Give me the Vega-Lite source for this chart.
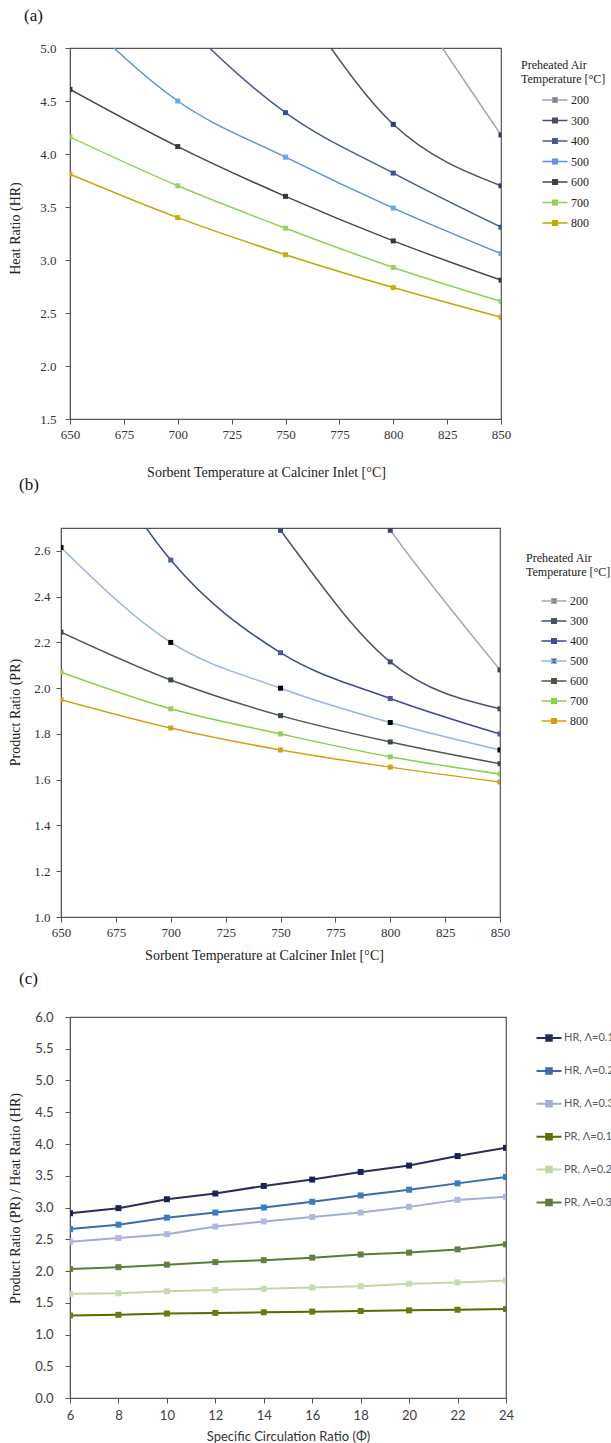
{
  "$schema": "https://vega.github.io/schema/vega-lite/v6.json",
  "background": "white",
  "padding": {"left": 0, "top": 6, "right": 0, "bottom": 0},
  "spacing": -5,
  "resolve": {"scale": {"stroke": "independent", "fill": "independent"}, "legend": {"stroke": "independent", "fill": "independent"}},
  "config": {
    "view": {"stroke": "#555555", "strokeWidth": 1.2},
    "axis": {"grid": false, "labelFlush": false, "domainColor": "#555555", "tickColor": "#555555", "tickSize": 5, "labelFont": "Liberation Serif", "labelFontSize": 13, "labelColor": "#333333", "titleFont": "Liberation Serif", "titleFontSize": 14, "titleFontWeight": "normal", "titleColor": "#222222", "labelPadding": 5},
    "title": {"font": "Liberation Serif", "fontSize": 17, "fontWeight": "normal", "anchor": "start", "frame": "group", "baseline": "top", "color": "#111111"},
    "legend": {"padding": 0}
  },
  "datasets": {
    "spacer": [],
    "a": [
      {"T": "200", "x": 650, "y": 11.5}, {"T": "200", "x": 700, "y": 9.2}, {"T": "200", "x": 750, "y": 7.3}, {"T": "200", "x": 800, "y": 5.7}, {"T": "200", "x": 850, "y": 4.18},
      {"T": "300", "x": 650, "y": 8.8}, {"T": "300", "x": 700, "y": 7.0}, {"T": "300", "x": 750, "y": 5.6}, {"T": "300", "x": 800, "y": 4.28}, {"T": "300", "x": 850, "y": 3.70},
      {"T": "400", "x": 650, "y": 6.5}, {"T": "400", "x": 700, "y": 5.3}, {"T": "400", "x": 750, "y": 4.39}, {"T": "400", "x": 800, "y": 3.82}, {"T": "400", "x": 850, "y": 3.31},
      {"T": "500", "x": 650, "y": 5.4}, {"T": "500", "x": 700, "y": 4.50}, {"T": "500", "x": 750, "y": 3.97}, {"T": "500", "x": 800, "y": 3.49}, {"T": "500", "x": 850, "y": 3.06},
      {"T": "600", "x": 650, "y": 4.61}, {"T": "600", "x": 700, "y": 4.07}, {"T": "600", "x": 750, "y": 3.60}, {"T": "600", "x": 800, "y": 3.18}, {"T": "600", "x": 850, "y": 2.81},
      {"T": "700", "x": 650, "y": 4.16}, {"T": "700", "x": 700, "y": 3.70}, {"T": "700", "x": 750, "y": 3.30}, {"T": "700", "x": 800, "y": 2.93}, {"T": "700", "x": 850, "y": 2.61},
      {"T": "800", "x": 650, "y": 3.81}, {"T": "800", "x": 700, "y": 3.40}, {"T": "800", "x": 750, "y": 3.05}, {"T": "800", "x": 800, "y": 2.74}, {"T": "800", "x": 850, "y": 2.46}
    ],
    "b": [
      {"T": "200", "x": 650, "y": 5.0}, {"T": "200", "x": 700, "y": 4.2}, {"T": "200", "x": 750, "y": 3.4}, {"T": "200", "x": 800, "y": 2.69}, {"T": "200", "x": 850, "y": 2.08},
      {"T": "300", "x": 650, "y": 4.3}, {"T": "300", "x": 700, "y": 3.4}, {"T": "300", "x": 750, "y": 2.69}, {"T": "300", "x": 800, "y": 2.115}, {"T": "300", "x": 850, "y": 1.91},
      {"T": "400", "x": 650, "y": 3.3}, {"T": "400", "x": 700, "y": 2.56}, {"T": "400", "x": 750, "y": 2.155}, {"T": "400", "x": 800, "y": 1.955}, {"T": "400", "x": 850, "y": 1.80},
      {"T": "500", "x": 650, "y": 2.615}, {"T": "500", "x": 700, "y": 2.20}, {"T": "500", "x": 750, "y": 2.00}, {"T": "500", "x": 800, "y": 1.85}, {"T": "500", "x": 850, "y": 1.73},
      {"T": "600", "x": 650, "y": 2.245}, {"T": "600", "x": 700, "y": 2.036}, {"T": "600", "x": 750, "y": 1.88}, {"T": "600", "x": 800, "y": 1.765}, {"T": "600", "x": 850, "y": 1.67},
      {"T": "700", "x": 650, "y": 2.07}, {"T": "700", "x": 700, "y": 1.91}, {"T": "700", "x": 750, "y": 1.80}, {"T": "700", "x": 800, "y": 1.70}, {"T": "700", "x": 850, "y": 1.625},
      {"T": "800", "x": 650, "y": 1.95}, {"T": "800", "x": 700, "y": 1.826}, {"T": "800", "x": 750, "y": 1.73}, {"T": "800", "x": 800, "y": 1.655}, {"T": "800", "x": 850, "y": 1.59}
    ],
    "c": [
      {"S": "HR, Λ=0.1", "x": 6, "y": 2.91}, {"S": "HR, Λ=0.1", "x": 8, "y": 2.99}, {"S": "HR, Λ=0.1", "x": 10, "y": 3.13}, {"S": "HR, Λ=0.1", "x": 12, "y": 3.22}, {"S": "HR, Λ=0.1", "x": 14, "y": 3.34}, {"S": "HR, Λ=0.1", "x": 16, "y": 3.44}, {"S": "HR, Λ=0.1", "x": 18, "y": 3.56}, {"S": "HR, Λ=0.1", "x": 20, "y": 3.66}, {"S": "HR, Λ=0.1", "x": 22, "y": 3.81}, {"S": "HR, Λ=0.1", "x": 24, "y": 3.94},
      {"S": "HR, Λ=0.2", "x": 6, "y": 2.66}, {"S": "HR, Λ=0.2", "x": 8, "y": 2.73}, {"S": "HR, Λ=0.2", "x": 10, "y": 2.84}, {"S": "HR, Λ=0.2", "x": 12, "y": 2.92}, {"S": "HR, Λ=0.2", "x": 14, "y": 3.00}, {"S": "HR, Λ=0.2", "x": 16, "y": 3.09}, {"S": "HR, Λ=0.2", "x": 18, "y": 3.19}, {"S": "HR, Λ=0.2", "x": 20, "y": 3.28}, {"S": "HR, Λ=0.2", "x": 22, "y": 3.38}, {"S": "HR, Λ=0.2", "x": 24, "y": 3.48},
      {"S": "HR, Λ=0.3", "x": 6, "y": 2.46}, {"S": "HR, Λ=0.3", "x": 8, "y": 2.52}, {"S": "HR, Λ=0.3", "x": 10, "y": 2.58}, {"S": "HR, Λ=0.3", "x": 12, "y": 2.70}, {"S": "HR, Λ=0.3", "x": 14, "y": 2.78}, {"S": "HR, Λ=0.3", "x": 16, "y": 2.85}, {"S": "HR, Λ=0.3", "x": 18, "y": 2.92}, {"S": "HR, Λ=0.3", "x": 20, "y": 3.01}, {"S": "HR, Λ=0.3", "x": 22, "y": 3.12}, {"S": "HR, Λ=0.3", "x": 24, "y": 3.17},
      {"S": "PR, Λ=0.1", "x": 6, "y": 1.30}, {"S": "PR, Λ=0.1", "x": 8, "y": 1.31}, {"S": "PR, Λ=0.1", "x": 10, "y": 1.33}, {"S": "PR, Λ=0.1", "x": 12, "y": 1.34}, {"S": "PR, Λ=0.1", "x": 14, "y": 1.35}, {"S": "PR, Λ=0.1", "x": 16, "y": 1.36}, {"S": "PR, Λ=0.1", "x": 18, "y": 1.37}, {"S": "PR, Λ=0.1", "x": 20, "y": 1.38}, {"S": "PR, Λ=0.1", "x": 22, "y": 1.39}, {"S": "PR, Λ=0.1", "x": 24, "y": 1.40},
      {"S": "PR, Λ=0.2", "x": 6, "y": 1.64}, {"S": "PR, Λ=0.2", "x": 8, "y": 1.65}, {"S": "PR, Λ=0.2", "x": 10, "y": 1.68}, {"S": "PR, Λ=0.2", "x": 12, "y": 1.70}, {"S": "PR, Λ=0.2", "x": 14, "y": 1.72}, {"S": "PR, Λ=0.2", "x": 16, "y": 1.74}, {"S": "PR, Λ=0.2", "x": 18, "y": 1.76}, {"S": "PR, Λ=0.2", "x": 20, "y": 1.80}, {"S": "PR, Λ=0.2", "x": 22, "y": 1.82}, {"S": "PR, Λ=0.2", "x": 24, "y": 1.85},
      {"S": "PR, Λ=0.3", "x": 6, "y": 2.03}, {"S": "PR, Λ=0.3", "x": 8, "y": 2.06}, {"S": "PR, Λ=0.3", "x": 10, "y": 2.10}, {"S": "PR, Λ=0.3", "x": 12, "y": 2.14}, {"S": "PR, Λ=0.3", "x": 14, "y": 2.17}, {"S": "PR, Λ=0.3", "x": 16, "y": 2.21}, {"S": "PR, Λ=0.3", "x": 18, "y": 2.26}, {"S": "PR, Λ=0.3", "x": 20, "y": 2.29}, {"S": "PR, Λ=0.3", "x": 22, "y": 2.34}, {"S": "PR, Λ=0.3", "x": 24, "y": 2.42}
    ]
  },
  "vconcat": [
    {"spacing": 0, "hconcat": [
      {"width": 7, "height": 1, "view": {"stroke": null}, "data": {"name": "spacer"}, "mark": "point", "encoding": {}},
      {
      "title": {"text": "(a)", "dx": -46, "offset": 17},
      "width": 431,
      "height": 371,
      "data": {"name": "a"},
      "encoding": {
        "x": {"field": "x", "type": "quantitative", "scale": {"domain": [650, 850], "nice": false}, "axis": {"values": [650, 675, 700, 725, 750, 775, 800, 825, 850], "labelPadding": 4, "title": "Sorbent Temperature at Calciner Inlet [°C]", "titleX": 196, "titleY": 46.1, "titleAlign": "center", "titleBaseline": "top"}},
        "y": {"field": "y", "type": "quantitative", "scale": {"domain": [1.5, 5.0], "nice": false}, "axis": {"values": [1.5, 2.0, 2.5, 3.0, 3.5, 4.0, 4.5, 5.0], "format": ".1f", "title": "Heat Ratio (HR)", "titleX": -48, "titleY": 180, "titleAlign": "center", "titleBaseline": "bottom", "labelPadding": 9}}
      },
      "layer": [
        {
          "mark": {"type": "line", "interpolate": "monotone", "clip": true, "strokeWidth": 1.5},
          "encoding": {
            "stroke": {"field": "T", "type": "nominal", "scale": {"domain": ["200", "300", "400", "500", "600", "700", "800"], "range": ["#9fa3ad", "#4d5263", "#4a5a92", "#5b8fe0", "#414a41", "#8ed158", "#bfa800"]},
              "legend": {"orient": "none", "legendX": 521, "legendY": 12, "title": ["Preheated Air", "Temperature [°C]"], "titleFont": "Liberation Serif", "titleFontSize": 12, "titleFontWeight": "normal", "titleColor": "#222222", "titleLineHeight": 14, "titlePadding": 8, "labelFont": "Liberation Serif", "labelFontSize": 12, "labelColor": "#222222", "symbolType": "M-2.5,0H2.5M-0.45,-0.45H0.45V0.45H-0.45Z", "symbolSize": 100, "symbolStrokeWidth": 1.5, "symbolOffset": 28, "labelOffset": 10, "rowPadding": 8.5, "symbolOpacity": 1}}
          }
        },
        {
          "mark": {"type": "point", "shape": "square", "filled": true, "size": 25, "opacity": 1, "clip": true},
          "encoding": {
            "fill": {"field": "T", "type": "nominal", "scale": {"domain": ["200", "300", "400", "500", "600", "700", "800"], "range": ["#2c3470", "#2e3a78", "#3b4ea2", "#62a6ee", "#323c32", "#98d264", "#c4b000"]},
              "legend": {"orient": "none", "legendX": 521, "legendY": 12, "title": ["Preheated Air", "Temperature [°C]"], "titleFont": "Liberation Serif", "titleFontSize": 12, "titleFontWeight": "normal", "titleColor": "#222222", "titleLineHeight": 14, "titlePadding": 8, "labelFont": "Liberation Serif", "labelFontSize": 12, "labelColor": "#222222", "symbolType": "M-2.5,0H2.5M-0.45,-0.45H0.45V0.45H-0.45Z", "symbolSize": 100, "symbolStrokeWidth": 1.5, "symbolOffset": 28, "labelOffset": 10, "rowPadding": 8.5, "symbolOpacity": 1}}
          }
        }
      ]
    }]},
    {"spacing": 0, "hconcat": [
      {"width": 7, "height": 1, "view": {"stroke": null}, "data": {"name": "spacer"}, "mark": "point", "encoding": {}},
      {
      "title": {"text": "(b)", "dx": -42, "offset": 34},
      "width": 439,
      "height": 389,
      "data": {"name": "b"},
      "encoding": {
        "x": {"field": "x", "type": "quantitative", "scale": {"domain": [650, 850], "nice": false}, "axis": {"values": [650, 675, 700, 725, 750, 775, 800, 825, 850], "labelPadding": 4, "title": ["Sorbent Temperature at Calciner Inlet [°C]", " "], "titleLineHeight": 11, "titleX": 203, "titleY": 31.1, "titleAlign": "center", "titleBaseline": "top"}},
        "y": {"field": "y", "type": "quantitative", "scale": {"domain": [1.0, 2.7], "nice": false}, "axis": {"values": [1.0, 1.2, 1.4, 1.6, 1.8, 2.0, 2.2, 2.4, 2.6], "format": ".1f", "title": "Product Ratio (PR)", "titleX": -39, "titleY": 184, "titleAlign": "center", "titleBaseline": "bottom", "labelPadding": 6}}
      },
      "layer": [
        {
          "mark": {"type": "line", "interpolate": "monotone", "clip": true, "strokeWidth": 1.5},
          "encoding": {
            "stroke": {"field": "T", "type": "nominal", "scale": {"domain": ["200", "300", "400", "500", "600", "700", "800"], "range": ["#a9a9a9", "#4a5272", "#3b4b92", "#95b2ea", "#4a5948", "#87cf47", "#d4a012"]},
              "legend": {"orient": "none", "legendX": 526, "legendY": 25, "title": ["Preheated Air", "Temperature [°C]"], "titleFont": "Liberation Serif", "titleFontSize": 12, "titleFontWeight": "normal", "titleColor": "#222222", "titleLineHeight": 14, "titlePadding": 16, "labelFont": "Liberation Serif", "labelFontSize": 12, "labelColor": "#222222", "symbolType": "M-2.5,0H2.5M-0.45,-0.45H0.45V0.45H-0.45Z", "symbolSize": 100, "symbolStrokeWidth": 1.5, "symbolOffset": 22, "labelOffset": 10, "rowPadding": 8, "symbolOpacity": 1}}
          }
        },
        {
          "mark": {"type": "point", "shape": "square", "filled": true, "size": 25, "opacity": 1, "clip": true},
          "encoding": {
            "fill": {"field": "T", "type": "nominal", "scale": {"domain": ["200", "300", "400", "500", "600", "700", "800"], "range": ["#3a4562", "#3c4a6c", "#4b57aa", "#000000", "#3a4a38", "#90d058", "#d0a020"]},
              "legend": {"orient": "none", "legendX": 526, "legendY": 25, "title": ["Preheated Air", "Temperature [°C]"], "titleFont": "Liberation Serif", "titleFontSize": 12, "titleFontWeight": "normal", "titleColor": "#222222", "titleLineHeight": 14, "titlePadding": 16, "labelFont": "Liberation Serif", "labelFontSize": 12, "labelColor": "#222222", "symbolType": "M-2.5,0H2.5M-0.45,-0.45H0.45V0.45H-0.45Z", "symbolSize": 100, "symbolStrokeWidth": 1.5, "symbolOffset": 22, "labelOffset": 10, "rowPadding": 8, "symbolOpacity": 1}}
          }
        }
      ]
    }]},
    {"spacing": 0, "hconcat": [
      {"width": 7, "height": 1, "view": {"stroke": null}, "data": {"name": "spacer"}, "mark": "point", "encoding": {}},
      {
      "title": {"text": "(c)", "dx": -51, "offset": 23},
      "width": 436,
      "height": 381,
      "data": {"name": "c"},
      "encoding": {
        "x": {"field": "x", "type": "quantitative", "scale": {"domain": [6, 24], "nice": false}, "axis": {"values": [6, 8, 10, 12, 14, 16, 18, 20, 22, 24], "labelFont": "Lato", "labelColor": "#404040", "labelPadding": 6.4, "title": "Specific Circulation Ratio (Φ)", "titleFont": "Lato", "titleFontSize": 13, "titleColor": "#333333", "titleY": 32.3, "titleBaseline": "top"}},
        "y": {"field": "y", "type": "quantitative", "scale": {"domain": [0, 6], "nice": false}, "axis": {"values": [0, 0.5, 1, 1.5, 2, 2.5, 3, 3.5, 4, 4.5, 5, 5.5, 6], "format": ".1f", "labelFont": "Lato", "labelColor": "#404040", "labelPadding": 12, "title": "Product Ratio (PR) / Heat Ratio (HR)", "titleX": -48, "titleY": 181, "titleAlign": "center", "titleBaseline": "bottom"}}
      },
      "layer": [
        {
          "mark": {"type": "line", "clip": true, "strokeWidth": 2},
          "encoding": {
            "stroke": {"field": "S", "type": "nominal", "scale": {"domain": ["HR, Λ=0.1", "HR, Λ=0.2", "HR, Λ=0.3", "PR, Λ=0.1", "PR, Λ=0.2", "PR, Λ=0.3"], "range": ["#2a2d5a", "#3d6aae", "#a3acd8", "#5a6a00", "#c3d6a6", "#5a7a3a"]},
              "legend": {"orient": "none", "legendX": 543, "legendY": 15, "title": null, "labelFont": "Lato", "labelFontSize": 11, "labelColor": "#595959", "symbolType": "M-2.5,0H2.5M-0.55,-0.55H0.55V0.55H-0.55Z", "symbolSize": 100, "symbolStrokeWidth": 2, "symbolOffset": 0, "labelOffset": 9, "rowPadding": 18.9, "symbolOpacity": 1}}
          }
        },
        {
          "mark": {"type": "point", "shape": "square", "filled": true, "size": 36, "opacity": 1, "clip": true},
          "encoding": {
            "fill": {"field": "S", "type": "nominal", "scale": {"domain": ["HR, Λ=0.1", "HR, Λ=0.2", "HR, Λ=0.3", "PR, Λ=0.1", "PR, Λ=0.2", "PR, Λ=0.3"], "range": ["#1e2250", "#3a7cc0", "#b0b8e0", "#6a7a10", "#c8dab0", "#607f40"]},
              "legend": {"orient": "none", "legendX": 543, "legendY": 15, "title": null, "labelFont": "Lato", "labelFontSize": 11, "labelColor": "#595959", "symbolType": "M-2.5,0H2.5M-0.55,-0.55H0.55V0.55H-0.55Z", "symbolSize": 100, "symbolStrokeWidth": 2, "symbolOffset": 0, "labelOffset": 9, "rowPadding": 18.9, "symbolOpacity": 1}}
          }
        }
      ]
    }]}
  ]
}
